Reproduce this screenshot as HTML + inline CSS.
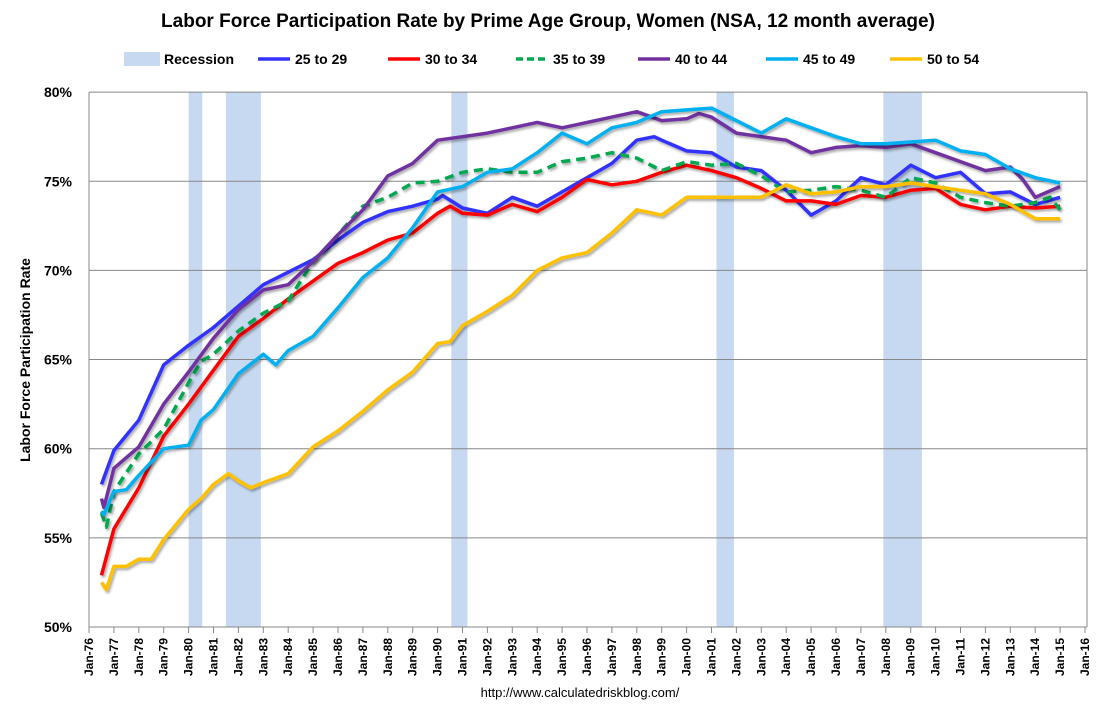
<!DOCTYPE html>
<html><head><meta charset="utf-8"><style>
body{margin:0;background:#fff;}
svg text{font-family:"Liberation Sans",Arial,sans-serif;}
</style></head><body>
<svg id="chart" width="1097" height="713" xmlns="http://www.w3.org/2000/svg">
<defs><filter id="sh" x="-5%" y="-5%" width="110%" height="110%"><feDropShadow dx="1.5" dy="2" stdDeviation="1.2" flood-color="#000" flood-opacity="0.35"/></filter></defs>
<rect width="1097" height="713" fill="#fff"/>
<text x="548" y="27" text-anchor="middle" font-size="19" font-weight="bold">Labor Force Participation Rate by Prime Age Group, Women (NSA, 12 month average)</text>
<g id="legend"></g>
<g id="rec"></g><g id="grid"></g><g id="series"></g><g id="axes"></g>
<text transform="translate(30,360) rotate(-90)" text-anchor="middle" font-size="14" font-weight="bold">Labor Force Participation Rate</text>
<text x="580" y="697" text-anchor="middle" font-size="13">http://www.calculatedriskblog.com/</text>
</svg>
<script>
const recessions=[[1980.0,1980.55],[1981.5,1982.9],[1990.55,1991.2],[2001.2,2001.9],[2007.9,2009.45]];
const yTicks=[50,55,60,65,70,75,80];
const t25=[1976.5,1977,1978,1979,1980,1981,1982,1983,1984,1985,1986,1987,1988,1989,1990,1990.2,1991,1992,1993,1994,1995,1996,1997,1998,1998.7,1999,2000,2001,2002,2003,2004,2005,2006,2007,2008,2009,2010,2011,2012,2013,2014,2015];
const v25=[58.0,59.9,61.6,64.7,65.8,66.8,68.0,69.2,69.9,70.6,71.7,72.7,73.3,73.6,74.0,74.2,73.5,73.2,74.1,73.6,74.4,75.2,76.0,77.3,77.5,77.3,76.7,76.6,75.8,75.6,74.5,73.1,73.9,75.2,74.8,75.9,75.2,75.5,74.3,74.4,73.7,74.1];
const t30=[1976.5,1977,1978,1979,1980,1981,1982,1983,1984,1985,1986,1987,1988,1989,1990,1990.5,1991,1992,1993,1994,1995,1996,1997,1998,1999,2000,2001,2002,2003,2004,2005,2006,2007,2008,2009,2010,2011,2012,2013,2014,2015];
const v30=[52.9,55.5,57.8,60.7,62.5,64.4,66.3,67.3,68.4,69.4,70.4,71.0,71.7,72.1,73.2,73.6,73.2,73.1,73.7,73.3,74.1,75.1,74.8,75.0,75.5,75.9,75.6,75.2,74.6,73.9,73.9,73.7,74.2,74.1,74.5,74.6,73.7,73.4,73.6,73.5,73.6];
const t35=[1976.5,1976.7,1977,1978,1979,1980,1980.5,1981,1982,1983,1984,1985,1986,1987,1988,1989,1990,1991,1992,1993,1994,1995,1996,1997,1998,1999,2000,2001,2002,2003,2004,2005,2006,2007,2008,2009,2010,2011,2012,2013,2014,2014.6,2015];
const v35=[56.4,55.6,57.6,59.7,61.1,63.7,64.9,65.3,66.6,67.6,68.3,70.5,72.0,73.6,74.1,74.9,75.0,75.5,75.7,75.5,75.5,76.1,76.3,76.6,76.3,75.6,76.1,75.9,76.0,75.3,74.4,74.5,74.7,74.5,74.1,75.2,74.9,74.1,73.8,73.6,73.8,74.1,73.4];
const t40=[1976.5,1976.6,1977,1978,1979,1980,1981,1982,1983,1984,1985,1986,1987,1988,1989,1990,1991,1992,1993,1994,1995,1996,1997,1998,1999,2000,2000.5,2001,2002,2003,2004,2005,2006,2007,2008,2009,2010,2011,2012,2013,2013.5,2014,2014.5,2015];
const v40=[57.2,56.7,58.9,60.1,62.5,64.3,66.2,67.8,68.9,69.2,70.5,72.0,73.4,75.3,76.0,77.3,77.5,77.7,78.0,78.3,78.0,78.3,78.6,78.9,78.4,78.5,78.8,78.6,77.7,77.5,77.3,76.6,76.9,77.0,76.9,77.1,76.6,76.1,75.6,75.8,75.1,74.1,74.4,74.7];
const t45=[1976.5,1976.6,1977,1977.5,1978,1979,1980,1980.5,1981,1982,1983,1983.5,1984,1985,1986,1987,1988,1989,1990,1991,1992,1993,1994,1995,1996,1997,1998,1999,2000,2001,2002,2003,2004,2005,2006,2007,2008,2009,2010,2011,2012,2013,2014,2015];
const v45=[56.5,56.3,57.6,57.7,58.5,60.0,60.2,61.6,62.2,64.2,65.3,64.7,65.5,66.3,67.9,69.6,70.7,72.4,74.4,74.7,75.5,75.7,76.6,77.7,77.1,78.0,78.3,78.9,79.0,79.1,78.4,77.7,78.5,78.0,77.5,77.1,77.1,77.2,77.3,76.7,76.5,75.7,75.2,74.9];
const t50=[1976.5,1976.7,1977,1977.5,1978,1978.5,1979,1980,1980.5,1981,1981.6,1982,1982.5,1983,1984,1985,1986,1987,1988,1989,1990,1990.5,1991,1992,1993,1994,1995,1996,1997,1998,1999,2000,2001,2002,2003,2004,2005,2006,2007,2008,2009,2010,2011,2012,2013,2014,2015];
const v50=[52.5,52.1,53.4,53.4,53.8,53.8,54.9,56.6,57.2,58.0,58.6,58.2,57.8,58.1,58.6,60.1,61.0,62.1,63.3,64.3,65.9,66.0,66.9,67.7,68.6,70.0,70.7,71.0,72.1,73.4,73.1,74.1,74.1,74.1,74.1,74.8,74.3,74.4,74.7,74.7,74.9,74.7,74.5,74.3,73.7,72.9,72.9];
const seriesNames=["25 to 29","30 to 34","35 to 39","40 to 44","45 to 49","50 to 54"];
const seriesColors=["#3333ff","#ff0000","#00a850","#7030a0","#00b0f0","#ffc000"];
const NS="http://www.w3.org/2000/svg";
const X=t=>89+(t-1976)*24.9, Y=v=>627-(v-50)*17.83;
function mk(tag,p,a){const e=document.createElementNS(NS,tag);for(const k in a)e.setAttribute(k,a[k]);p.appendChild(e);return e;}
const rec=document.getElementById('rec');
recessions.forEach(r=>{const e=mk('rect',rec,{x:X(r[0]),y:Y(80),width:X(r[1])-X(r[0]),height:Y(50)-Y(80),fill:'#c6d9f0'});

});
const grid=document.getElementById('grid');
yTicks.forEach(v=>{const l=mk('line',grid,{x1:89,x2:1087,y1:Y(v),y2:Y(v),stroke:'#888','stroke-width':1});


const t=mk('text',grid,{x:72,y:Y(v)+5,'text-anchor':'end','font-size':14,'font-weight':'bold'});t.textContent=v+'%';

});
const ax=document.getElementById('axes');
mk('line',ax,{x1:89,x2:89,y1:Y(80),y2:Y(50),stroke:'#888'});
mk('line',ax,{x1:1087,x2:1087,y1:Y(80),y2:Y(50),stroke:'#888'});
for(let yr=1976;yr<=2016;yr++){const x=X(yr);mk('line',ax,{x1:x,x2:x,y1:627,y2:633,stroke:'#888'});
const t=mk('text',ax,{transform:`translate(${x+4},638) rotate(-90)`,'text-anchor':'end','font-size':12,'font-weight':'bold'});
t.textContent='Jan-'+String(yr%100).padStart(2,'0');

}
const sg=document.getElementById('series');
const data=[[t25,v25],[t30,v30],[t35,v35],[t40,v40],[t45,v45],[t50,v50]];
data.forEach((d,i)=>{const pts=d[0].map((t,j)=>X(t).toFixed(1)+','+Y(d[1][j]).toFixed(1)).join(' ');
const a={points:pts,fill:'none',stroke:seriesColors[i],'stroke-width':3.5,'stroke-linejoin':'round',filter:'url(#sh)'};
if(i==2)a['stroke-dasharray']='9,6';
const p=mk('polyline',sg,a);

});
const lg=document.getElementById('legend');
const r=mk('rect',lg,{x:124,y:52,width:36,height:14,fill:'#c6d9f0'});
const rt=mk('text',lg,{x:164,y:64,'font-size':14,'font-weight':'bold'});rt.textContent='Recession';


const lx=[258,388,516,638,766,890];
seriesNames.forEach((n,i)=>{const a={x1:lx[i],x2:lx[i]+32,y1:59,y2:59,stroke:seriesColors[i],'stroke-width':3.5};
if(i==2)a['stroke-dasharray']='7,4';mk('line',lg,a);
const t=mk('text',lg,{x:lx[i]+37,y:64,'font-size':14,'font-weight':'bold'});t.textContent=n;

});
</script>
</body></html>
